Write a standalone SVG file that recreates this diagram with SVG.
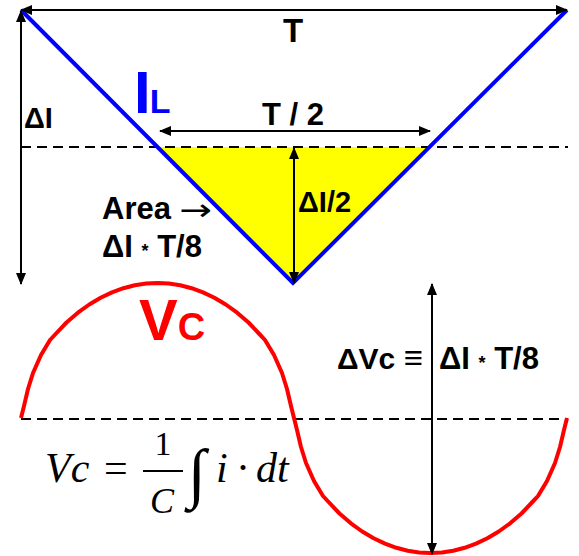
<svg xmlns="http://www.w3.org/2000/svg" width="579" height="556" viewBox="0 0 579 556">
<style>
.lbl{font-family:"Liberation Sans",Arial,sans-serif;font-weight:bold;fill:#000}
.math{font-family:"Liberation Serif","Times New Roman",serif;fill:#000}
.arr{stroke:#000;stroke-width:2;fill:none;marker-start:url(#ah);marker-end:url(#ah)}
.dash{stroke:#000;stroke-width:2;stroke-dasharray:10 6;fill:none}
</style>
<defs>
<marker id="ah" markerUnits="userSpaceOnUse" markerWidth="13" markerHeight="11" refX="11" refY="5" orient="auto-start-reverse">
<path d="M0,0 L12,5 L0,10 z" fill="#000"/>
</marker>
</defs>
<rect width="579" height="556" fill="#fff"/>
<g id="area-fill">
<polygon points="158,147 430,147 293,283" fill="#ffff00"/>
</g>
<g id="reference-lines">
<line class="dash" x1="21" y1="147" x2="568" y2="147"/>
<line class="dash" x1="21" y1="419" x2="568" y2="419"/>
</g>
<g id="IL-waveform">
<polyline points="21,10 293,283 567,10" fill="none" stroke="#0000ff" stroke-width="4" stroke-linejoin="miter"/>
<text class="lbl" x="134" y="113" style="fill:#0000ff"><tspan font-size="60">I</tspan><tspan font-size="34" dx="-1">L</tspan></text>
</g>
<g id="Vc-waveform">
<polyline points="21,418 24,406 28,389 33,373 41,355 50,340 55.13,334.5 66.5,322.5 77.88,312.7 89.25,304.5 100.63,297.8 112,292.4 123.38,288.2 134.75,285.3 146.13,283.6 157.5,283 168.88,283.6 180.25,285.3 191.63,288.2 203,292.4 214.38,297.8 225.75,304.5 237.13,312.7 248.5,322.5 259.88,334.5 265,340 274,355 282,373 287,389 291,406 294,418 297,430 301,447 306,463 314,481 323,496 328.13,501.5 339.5,513.5 350.88,523.3 362.25,531.5 373.63,538.2 385,543.6 396.38,547.8 407.75,550.7 419.13,552.4 430.5,553 441.88,552.4 453.25,550.7 464.63,547.8 476,543.6 487.38,538.2 498.75,531.5 510.13,523.3 521.5,513.5 532.88,501.5 538,496 547,481 555,463 560,447 564,430 567,418" fill="none" stroke="#ff0000" stroke-width="4" stroke-linejoin="round"/>
<text class="lbl" x="139" y="340" style="fill:#ff0000"><tspan font-size="58">V</tspan><tspan font-size="38">C</tspan></text>
</g>
<g id="connectors">
<line class="arr" x1="21" y1="10" x2="567" y2="10"/>
<line class="arr" x1="21" y1="11" x2="21" y2="284"/>
<line class="arr" x1="160" y1="131" x2="430" y2="131"/>
<line class="arr" x1="294" y1="148" x2="294" y2="283"/>
<line class="arr" x1="432" y1="284" x2="432" y2="554"/>
</g>
<g id="label-T"><text class="lbl" x="293" y="42" font-size="33" text-anchor="middle">T</text></g>
<g id="label-T2"><text class="lbl" x="293" y="125" font-size="31" text-anchor="middle">T / 2</text></g>
<g id="label-dI"><text class="lbl" x="24" y="128" font-size="29">ΔI</text></g>
<g id="label-dI2"><text class="lbl" x="298" y="212" font-size="29">ΔI/2</text></g>
<g id="label-area">
<text class="lbl" x="102" y="219" font-size="31">Area</text>
<text font-family="'DejaVu Sans',sans-serif" font-size="30" fill="#000" transform="translate(179,220) scale(1.3,1)">→</text>
<text class="lbl" x="102" y="257" font-size="31">ΔI <tspan font-size="18">*</tspan> T/8</text>
</g>
<g id="label-dVc">
<text class="lbl" x="337" y="369" font-size="30">ΔVc <tspan font-size="33">≡</tspan></text>
<text class="lbl" x="439" y="369" font-size="31">ΔI <tspan font-size="18">*</tspan> T/8</text>
</g>
<g id="formula">
<text class="math" x="45" y="482" font-size="42" font-style="italic">Vc</text>
<text class="math" x="104" y="482" font-size="42">=</text>
<text class="math" x="163" y="455" font-size="34" text-anchor="middle">1</text>
<line x1="143" y1="471" x2="183" y2="471" stroke="#000" stroke-width="1.8"/>
<text class="math" x="162" y="513" font-size="36" font-style="italic" text-anchor="middle">C</text>
<text class="math" x="188" y="495" font-size="66">∫</text>
<text class="math" x="216" y="482" font-size="42" font-style="italic">i</text>
<text class="math" x="236" y="482" font-size="42">·</text>
<text class="math" x="256" y="482" font-size="42" font-style="italic">dt</text>
</g>
</svg>
